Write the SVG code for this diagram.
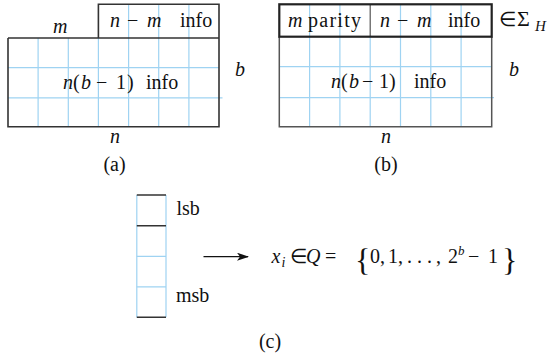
<svg xmlns="http://www.w3.org/2000/svg" width="551" height="359" viewBox="0 0 551 359">
<style>
.blue{stroke:#9fd3f2;stroke-width:1.2;fill:none}
.blk{stroke:#333;stroke-width:1.6;fill:none}
.thk{stroke:#222;stroke-width:2.2;fill:none}
.gry{stroke:#555;stroke-width:1.5;fill:none}
</style>
<defs>
<marker id="ah" markerWidth="12" markerHeight="8" refX="11" refY="4" orient="auto" markerUnits="userSpaceOnUse">
<path d="M0,0 L12,4 L0,8 L3,4 Z" fill="#111"/>
</marker>
</defs>
<rect width="551" height="359" fill="#fff"/>

<g id="diagram-a">
<g class="blue">
<path d="M38.1,38 V126.7 M68.3,38 V126.7 M98.4,38 V126.7 M128.6,4.3 V126.7 M158.7,4.3 V126.7 M188.9,4.3 V126.7"/>
<path d="M8,67.6 H219 M8,97.8 H222.5"/>
</g>
<path class="blk" d="M8,38 H219 M8,38 V126.7 H219 V4.3 H98.4 V38"/>
<text style="font-family:'Liberation Serif',serif;font-size:20px;font-style:italic" fill="#111" x="53" y="33">m</text>
<text style="font-family:'Liberation Serif',serif;font-size:20px" fill="#111" y="27"><tspan font-style="italic" x="110">n</tspan><tspan x="127">−</tspan><tspan font-style="italic" x="147">m</tspan><tspan x="180">info</tspan></text>
<text style="font-family:'Liberation Serif',serif;font-size:20px" fill="#111" y="89"><tspan font-style="italic" x="63">n</tspan><tspan x="73">(</tspan><tspan font-style="italic" x="81">b</tspan><tspan x="96">−</tspan><tspan x="116">1</tspan><tspan x="127">)</tspan><tspan x="146">info</tspan></text>
<text style="font-family:'Liberation Serif',serif;font-size:20px;font-style:italic" fill="#111" x="235" y="76">b</text>
<text style="font-family:'Liberation Serif',serif;font-size:20px;font-style:italic" fill="#111" x="115" y="143" text-anchor="middle">n</text>
<text style="font-family:'Liberation Serif',serif;font-size:20px" fill="#111" x="114.5" y="171" text-anchor="middle">(a)</text>
</g>

<g id="diagram-b">
<g class="blue">
<path d="M309.6,4.3 V126.7 M339.9,4.3 V126.7 M370.2,36.7 V126.7 M400.5,4.3 V126.7 M430.8,4.3 V126.7 M461.1,4.3 V126.7"/>
<path d="M279.3,66.7 H491.7 M279.3,97.7 H494"/>
</g>
<path class="gry" d="M279.3,36.7 V126.7 H491.7 V36.7"/>
<line x1="370.2" y1="4.3" x2="370.2" y2="36.7" stroke="#555" stroke-width="1.2"/>
<rect class="thk" x="279.3" y="4.3" width="212.4" height="32.4"/>
<text style="font-family:'Liberation Serif',serif;font-size:20px" fill="#111" y="26.5"><tspan font-style="italic" x="288">m</tspan><tspan x="308" textLength="53">parity</tspan></text>
<text style="font-family:'Liberation Serif',serif;font-size:20px" fill="#111" y="26.5"><tspan font-style="italic" x="380">n</tspan><tspan x="397">−</tspan><tspan font-style="italic" x="417">m</tspan><tspan x="448">info</tspan></text>
<text style="font-family:'Liberation Serif',serif;font-size:20px" fill="#111" y="88"><tspan font-style="italic" x="331">n</tspan><tspan x="341">(</tspan><tspan font-style="italic" x="349">b</tspan><tspan x="362">−</tspan><tspan x="379">1</tspan><tspan x="389">)</tspan><tspan x="414">info</tspan></text>
<text style="font-family:'Liberation Serif',serif;font-size:20px" fill="#111" y="26"><tspan x="499">∈</tspan><tspan x="517" font-size="22">Σ</tspan><tspan font-style="italic" x="535" y="31" font-size="15">H</tspan></text>
<text style="font-family:'Liberation Serif',serif;font-size:20px;font-style:italic" fill="#111" x="509" y="76">b</text>
<text style="font-family:'Liberation Serif',serif;font-size:20px;font-style:italic" fill="#111" x="386" y="143" text-anchor="middle">n</text>
<text style="font-family:'Liberation Serif',serif;font-size:20px" fill="#111" x="386" y="171" text-anchor="middle">(b)</text>
</g>

<g id="diagram-c">
<g class="blue">
<path d="M136.8,195 V317.3 M166,195 V317.3"/>
<path d="M136.8,256.3 H166 M136.8,286.8 H166"/>
</g>
<path class="blk" d="M136.8,195 H166 M136.8,225.7 H166 M136.8,317.3 H166"/>
<text style="font-family:'Liberation Serif',serif;font-size:20px" fill="#111" x="176.5" y="215">lsb</text>
<text style="font-family:'Liberation Serif',serif;font-size:20px" fill="#111" x="176" y="302">msb</text>
<text style="font-family:'Liberation Serif',serif;font-size:20px" fill="#111" y="263"><tspan font-style="italic" x="271.5">x</tspan><tspan font-style="italic" x="281.5" y="267" font-size="14">i</tspan><tspan x="290" y="263">∈</tspan><tspan font-style="italic" x="306">Q</tspan><tspan x="325">=</tspan><tspan x="370">0,</tspan><tspan x="388">1,</tspan><tspan x="407">.</tspan><tspan x="417">.</tspan><tspan x="427">.</tspan><tspan x="436">,</tspan><tspan x="448">2</tspan><tspan font-style="italic" x="458" y="255" font-size="13">b</tspan><tspan x="468" y="263">−</tspan><tspan x="488">1</tspan></text>
<text style="font-family:'Liberation Serif',serif;font-size:32px" fill="#111" x="355" y="271">{</text>
<text style="font-family:'Liberation Serif',serif;font-size:32px" fill="#111" x="502" y="271">}</text>
<text style="font-family:'Liberation Serif',serif;font-size:20px" fill="#111" x="270" y="348" text-anchor="middle">(c)</text>
</g>

<g id="connectors">
<line x1="203.5" y1="256.7" x2="248" y2="256.7" stroke="#111" stroke-width="1.2" marker-end="url(#ah)"/>
</g>
</svg>
